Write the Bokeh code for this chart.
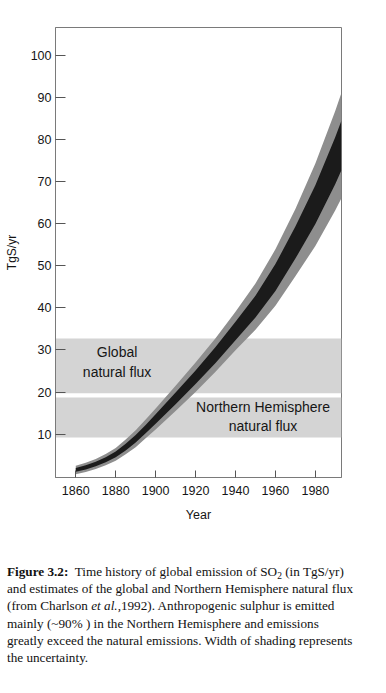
from bokeh.plotting import figure
from bokeh.models import BoxAnnotation, Div, Range1d, FixedTicker, ColumnDataSource
from bokeh.layouts import column
from bokeh.core.properties import value
from bokeh.embed import file_html
from bokeh.resources import INLINE

# ---- data ----
years = [1860, 1865, 1870, 1875, 1880, 1885, 1890, 1895, 1900, 1910, 1920, 1930,
         1940, 1950, 1960, 1970, 1980, 1990, 1993]
outer_lo = [0.5, 1.0, 1.7, 2.6, 3.7, 5.2, 6.9, 9.0, 11.1, 15.5, 20.0, 24.8,
            29.9, 34.8, 40.5, 47.5, 54.7, 63.2, 66.0]
outer_hi = [2.5, 3.2, 4.1, 5.3, 6.7, 8.7, 10.9, 13.5, 16.1, 21.5, 27.0, 32.8,
            39.1, 45.8, 53.9, 63.5, 74.3, 86.8, 91.0]
inner_lo = [1.05, 1.6, 2.35, 3.3, 4.5, 6.1, 8.0, 10.2, 12.45, 17.1, 21.9, 26.9,
            32.3, 37.7, 44.0, 51.7, 59.9, 69.4, 72.6]
inner_hi = [1.95, 2.6, 3.45, 4.5, 5.9, 7.7, 9.8, 12.2, 14.75, 19.9, 25.1, 30.7,
            36.7, 42.9, 50.4, 59.3, 69.1, 80.6, 84.4]

flux_names = ["Global\nnatural flux", "Northern Hemisphere\nnatural flux"]
flux_low = [19.7, 9.2]
flux_high = [32.7, 18.7]

x_ticks = [1860, 1880, 1900, 1920, 1940, 1960, 1980]
y_ticks = [10, 20, 30, 40, 50, 60, 70, 80, 90, 100]

# ---- figure ----
p = figure(width=380, height=540,
           x_range=Range1d(1849.85, 1993.1), y_range=Range1d(-0.3, 106.6),
           output_backend="svg", toolbar_location=None,
           min_border_left=55, min_border_right=39, min_border_top=27, min_border_bottom=63)
p.grid.visible = False
p.background_fill_color = "white"
p.border_fill_color = "white"
p.outline_line_color = "#7a7a7a"
p.outline_line_width = 1

for lo, hi in zip(flux_low, flux_high):
    p.add_layout(BoxAnnotation(bottom=lo, top=hi, fill_color="#d4d4d4", fill_alpha=1.0,
                               line_color=None, level="underlay"))

src = ColumnDataSource(dict(x=years, olo=outer_lo, ohi=outer_hi, ilo=inner_lo, ihi=inner_hi))
p.varea(x="x", y1="olo", y2="ohi", source=src, fill_color="#8e8e8e")
p.varea(x="x", y1="ilo", y2="ihi", source=src, fill_color="#1b1b1b")

label_x = [1880.7, 1953.8]
label_y = [27.1, 14.15]
p.text(x=label_x, y=label_y, text=flux_names, text_font=value("Liberation Sans"),
       text_font_size="14px", text_color="#161616", text_align="center",
       text_baseline="middle", text_line_height=1.22)

for ax in (p.xaxis[0], p.yaxis[0]):
    ax.axis_line_color = "#7a7a7a"
    ax.major_tick_line_color = "#555555"
    ax.minor_tick_line_color = None
    ax.major_tick_out = 0
    ax.major_label_text_font = "Liberation Sans"
    ax.major_label_text_font_size = "12.5px"
    ax.major_label_text_color = "#151515"
    ax.axis_label_text_font = "Liberation Sans"
    ax.axis_label_text_font_style = "normal"
    ax.axis_label_text_color = "#151515"

p.xaxis.ticker = FixedTicker(ticks=x_ticks)
p.yaxis.ticker = FixedTicker(ticks=y_ticks)
p.xaxis.major_tick_in = 7
p.yaxis.major_tick_in = 10
p.xaxis.major_label_standoff = 8
p.yaxis.major_label_standoff = 4
p.xaxis.axis_label = "Year"
p.xaxis.axis_label_text_font_size = "12.5px"
p.xaxis.axis_label_standoff = 10
p.yaxis.axis_label = "TgS/yr"
p.yaxis.axis_label_text_font_size = "12px"
p.yaxis.axis_label_standoff = 9

caption_html = (
    '<b>Figure 3.2:</b>&nbsp; Time history of global emission of SO'
    '<span style="font-size:0.72em; vertical-align:-0.3em; line-height:0">2</span> (in TgS/yr)<br>'
    'and estimates of the global and Northern Hemisphere natural flux<br>'
    '(from Charlson <i>et al.</i>,1992). Anthropogenic sulphur is emitted<br>'
    'mainly (~90% ) in the Northern Hemisphere and emissions<br>'
    'greatly exceed the natural emissions. Width of shading represents<br>'
    'the uncertainty.'
)
cap = Div(text=caption_html, width=380, margin=(0, 0, 0, 0),
          styles={"font-family": "'Liberation Serif', serif", "font-size": "13.2px",
                  "line-height": "17.2px", "color": "#111111", "white-space": "nowrap",
                  "padding-top": "23px", "padding-left": "7px"})

layout = column(p, cap, spacing=0)
open("out.html", "w").write(file_html(layout, INLINE))
